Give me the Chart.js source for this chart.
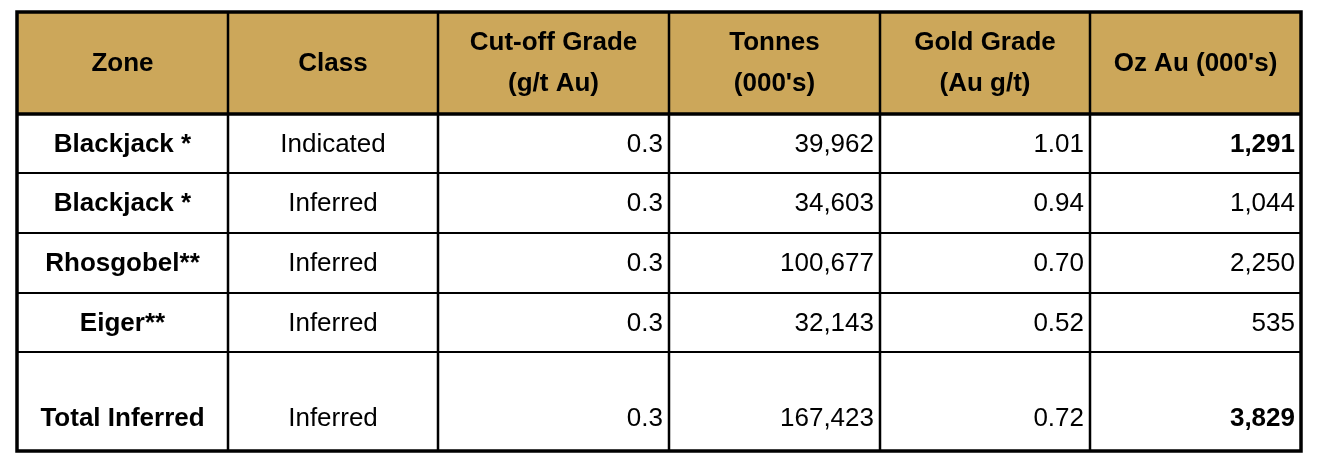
<!DOCTYPE html>
<html><head><meta charset="utf-8">
<script src="https://cdn.jsdelivr.net/npm/chart.js@4"></script>
<style>html,body{margin:0;padding:0;background:#fff}#wrap{width:1318px;height:469px}</style>
</head><body><div id="wrap"><canvas id="c"></canvas></div>
<script>
const headers = [["Zone"],["Class"],["Cut-off Grade","(g/t Au)"],["Tonnes","(000's)"],["Gold Grade","(Au g/t)"],["Oz Au (000's)"]];
const zones = ["Blackjack *","Blackjack *","Rhosgobel**","Eiger**","Total Inferred"];
const classes = ["Indicated","Inferred","Inferred","Inferred","Inferred"];
const cutoff = ["0.3","0.3","0.3","0.3","0.3"];
const tonnes = ["39,962","34,603","100,677","32,143","167,423"];
const grade = ["1.01","0.94","0.70","0.52","0.72"];
const ozAu = ["1,291","1,044","2,250","535","3,829"];
const ozBold = [true,false,false,false,true];

const colX = [17,228,438,669,880,1090,1301];
const rowY = [12,114,173,233,293,352,451];

const tablePlugin = {
  id:'table',
  afterDraw(chart){
    const ctx = chart.ctx;
    ctx.save();
    ctx.fillStyle='#fff';ctx.fillRect(0,0,chart.width,chart.height);
    ctx.fillStyle='#CCA75A';
    ctx.fillRect(colX[0],rowY[0],colX[6]-colX[0],rowY[1]-rowY[0]);
    ctx.fillStyle='#000';
    const F='"Liberation Sans", Arial, sans-serif';
    ctx.textBaseline='middle';
    // headers
    ctx.font='bold 26px '+F; ctx.textAlign='center';
    headers.forEach((h,i)=>{
      const cx=(colX[i]+colX[i+1])/2, cy=(rowY[0]+rowY[1])/2;
      if(h.length===1) ctx.fillText(h[0],cx,cy+1);
      else {ctx.fillText(h[0],cx,cy-20);ctx.fillText(h[1],cx,cy+21);}
    });
    for(let r=0;r<zones.length;r++){
      const y0=rowY[r+1],y1=rowY[r+2];
      const cy = r===4 ? y1-32 : (y0+y1)/2+1;
      ctx.textAlign='center';
      ctx.font='bold 26px '+F;
      ctx.fillText(zones[r],(colX[0]+colX[1])/2,cy);
      ctx.font='26px '+F;
      ctx.fillText(classes[r],(colX[1]+colX[2])/2,cy);
      ctx.textAlign='right';
      const vals=[cutoff[r],tonnes[r],grade[r],ozAu[r]];
      vals.forEach((v,k)=>{
        ctx.font=(k===3&&ozBold[r]?'bold ':'')+'26px '+F;
        ctx.fillText(v,colX[k+3]-6,cy);
      });
    }
    // grid
    ctx.strokeStyle='#000';
    ctx.lineWidth=2;
    for(let i=2;i<rowY.length-1;i++){ctx.beginPath();ctx.moveTo(colX[0],rowY[i]);ctx.lineTo(colX[6],rowY[i]);ctx.stroke();}
    for(let i=1;i<colX.length-1;i++){ctx.lineWidth=i===0?3:2.5;ctx.beginPath();ctx.moveTo(colX[i],rowY[0]);ctx.lineTo(colX[i],rowY[6]);ctx.stroke();}
    ctx.lineWidth=3.5;
    ctx.beginPath();ctx.moveTo(colX[0],rowY[1]);ctx.lineTo(colX[6],rowY[1]);ctx.stroke();
    ctx.strokeRect(colX[0],rowY[0],colX[6]-colX[0],rowY[6]-rowY[0]);
    ctx.restore();
  }
};

new Chart(document.getElementById('c'),{
  type:'bar',
  data:{labels:zones,datasets:[{data:[],label:'Oz Au'}]},
  options:{responsive:true,maintainAspectRatio:false,animation:false,
    plugins:{legend:{display:false},tooltip:{enabled:false}},
    scales:{x:{display:false},y:{display:false}}},
  plugins:[tablePlugin]
});
</script></body></html>
